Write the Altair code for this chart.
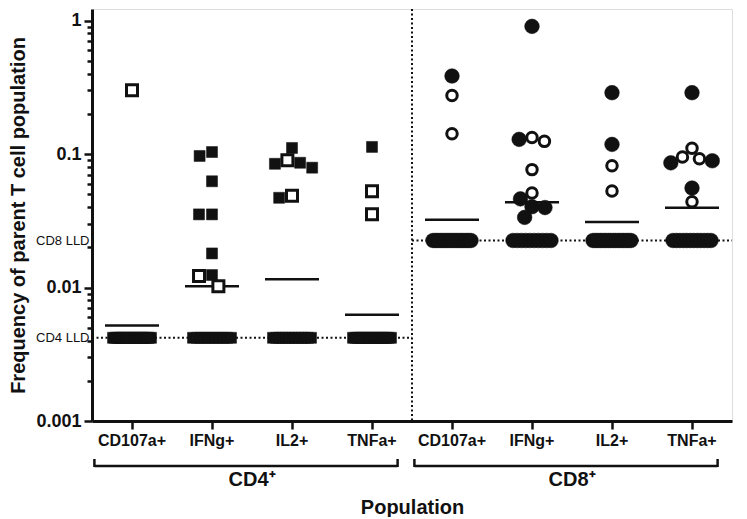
import math
import altair as alt
import pandas as pd

# ---------------- data ----------------
groups = ["CD4", "CD8"]
cytokines = ["CD107a+", "IFNg+", "IL2+", "TNFa+"]
lld_values = [0.0042, 0.0225]          # CD4 LLD, CD8 LLD
n_subjects = 20

cd4_cd107a_filled = []
cd4_cd107a_open = [0.30]
cd4_ifng_filled = [0.1035, 0.0967, 0.0625, 0.0353, 0.0353, 0.018, 0.0124]
cd4_ifng_open = [0.0122, 0.0102]
cd4_il2_filled = [0.111, 0.086, 0.079, 0.0845, 0.047]
cd4_il2_open = [0.090, 0.0486]
cd4_tnfa_filled = [0.113]
cd4_tnfa_open = [0.0527, 0.0354]

cd8_cd107a_filled = [0.384]
cd8_cd107a_open = [0.274, 0.142]
cd8_ifng_filled = [0.904, 0.1287, 0.0461, 0.0397, 0.0403, 0.0335]
cd8_ifng_open = [0.1244, 0.133, 0.0764, 0.0511]
cd8_il2_filled = [0.288, 0.118]
cd8_il2_open = [0.0817, 0.0528]
cd8_tnfa_filled = [0.288, 0.0859, 0.089, 0.0556]
cd8_tnfa_open = [0.1106, 0.092, 0.095, 0.0439]

major_ticks = [1, 0.1, 0.01, 0.001]
minor_ticks = [0.9, 0.8, 0.7, 0.6, 0.5, 0.4, 0.3, 0.2,
               0.09, 0.08, 0.07, 0.06, 0.05, 0.04, 0.03, 0.02,
               0.009, 0.008, 0.007, 0.006, 0.005, 0.004, 0.003, 0.002]

measured = {
    ("CD4", "CD107a+"): (cd4_cd107a_filled, cd4_cd107a_open),
    ("CD4", "IFNg+"): (cd4_ifng_filled, cd4_ifng_open),
    ("CD4", "IL2+"): (cd4_il2_filled, cd4_il2_open),
    ("CD4", "TNFa+"): (cd4_tnfa_filled, cd4_tnfa_open),
    ("CD8", "CD107a+"): (cd8_cd107a_filled, cd8_cd107a_open),
    ("CD8", "IFNg+"): (cd8_ifng_filled, cd8_ifng_open),
    ("CD8", "IL2+"): (cd8_il2_filled, cd8_il2_open),
    ("CD8", "TNFa+"): (cd8_tnfa_filled, cd8_tnfa_open),
}

# ---------------- layout ----------------
W, H = 640, 412
STEP = W / 8
Y_DOMAIN = [0.001, 1.22]
PPD = H / math.log10(Y_DOMAIN[1] / Y_DOMAIN[0])
FONT = "Liberation Sans"
INK = "#111111"


def swarm(values, d=13.0, lim=26.0):
    placed, offs = [], []
    for v in values:
        y = math.log10(v) * PPD
        cands = [0.0]
        for py, px in placed:
            dy = abs(y - py)
            if dy < d:
                dx = math.sqrt(d * d - dy * dy)
                cands += [px - dx, px + dx]

        def ok(c):
            return all((c - px) ** 2 + (y - py) ** 2 >= d * d - 1e-6 for py, px in placed)

        valid = [c for c in cands if ok(c) and abs(c) <= lim]
        best = min(valid, key=lambda c: (round(abs(c), 6), c)) if valid else min(cands, key=abs)
        placed.append((y, best))
        offs.append(best)
    return offs


rows = []
keys = []
for g, lld in zip(groups, lld_values):
    for c in cytokines:
        key = f"{g}|{c}"
        keys.append(key)
        filled, opened = measured[(g, c)]
        det = [(v, "filled") for v in filled] + [(v, "open") for v in opened]
        det.sort(key=lambda t: -t[0])
        offs = swarm([v for v, _ in det])
        for (v, k), o in zip(det, offs):
            rows.append(dict(pop=key, group=g, value=v, kind=k, off=o))
        n_lld = n_subjects - len(det)
        for i in range(n_lld):
            o = -19 + 38 * i / (n_lld - 1)
            rows.append(dict(pop=key, group=g, value=lld, kind="filled", off=o))
df = pd.DataFrame(rows)

lld_df = pd.DataFrame({
    "start": [f"{g}|{cytokines[0]}" for g in groups],
    "end": [f"{g}|{cytokines[-1]}" for g in groups],
    "mid": [f"{g}|{cytokines[1]}" for g in groups],
    "lld": lld_values,
    "label": [f"{g}\u207a" for g in groups],
})

xscale = alt.Scale(domain=keys, paddingInner=0, paddingOuter=0)
yscale = alt.Scale(type="log", domain=Y_DOMAIN, nice=False)

x_axis = alt.Axis(
    title="Population",
    labelExpr="split(datum.label, '|')[1]",
    labelAngle=0, labelFont=FONT, labelFontSize=16, labelFontWeight="bold",
    labelColor=INK, labelPadding=3, labelOverlap=False,
    tickSize=8, tickWidth=2.5, tickColor=INK,
    domainWidth=3, domainColor=INK,
    titleFont=FONT, titleFontSize=20, titleFontWeight="bold", titleColor=INK,
    titlePadding=49, grid=False,
)

lld_test = "datum.value == 0.0042 || datum.value == 0.0225"
major_test = "datum.value == 1 || datum.value == 0.1 || datum.value == 0.01 || datum.value == 0.001"
y_axis = alt.Axis(
    title="Frequency of parent T cell population",
    values=major_ticks + minor_ticks + lld_values,
    labelExpr=(f"({lld_test}) ? (datum.value == 0.0042 ? 'CD4 LLD' : 'CD8 LLD') : "
               f"(({major_test}) ? format(datum.value, '~g') : '')"),
    labelFont=FONT, labelColor=INK, labelOverlap=False, labelPadding=3,
    labelFontSize={"condition": {"test": lld_test, "value": 13}, "value": 18},
    labelFontWeight={"condition": {"test": lld_test, "value": "normal"}, "value": "bold"},
    tickSize={"condition": [{"test": major_test, "value": 8},
                            {"test": lld_test, "value": 0}], "value": 5},
    tickWidth=2.5, tickColor=INK,
    domainWidth=3, domainColor=INK,
    titleFont=FONT, titleFontSize=20, titleFontWeight="bold", titleColor=INK,
    titlePadding=7, grid=False,
)

base = alt.Chart(df)

# vertical dotted divider between CD4 and CD8
divider = alt.Chart(lld_df).transform_filter("datum.end == 'CD4|TNFa+'").mark_rule(
    color=INK, strokeWidth=2, strokeDash=[2, 2.5]
).encode(x=alt.X("end:N", scale=xscale, axis=x_axis, bandPosition=1))

# LLD dotted lines
lld_lines = alt.Chart(lld_df).mark_rule(
    color=INK, strokeWidth=2, strokeDash=[2, 2.5]
).encode(
    x=alt.X("start:N", scale=xscale, axis=x_axis, bandPosition=0),
    x2=alt.X2("end:N", bandPosition=1),
    y=alt.Y("lld:Q", scale=yscale, axis=y_axis),
)

# geometric mean lines
means = base.transform_calculate(
    lg="log(datum.value) / LN10"
).transform_aggregate(
    mlg="mean(lg)", groupby=["pop"]
).transform_calculate(
    gm="pow(10, datum.mlg)"
).mark_tick(color=INK, size=54, thickness=2.5, orient="horizontal", opacity=1).encode(
    x=alt.X("pop:N", scale=xscale, axis=x_axis),
    y=alt.Y("gm:Q", scale=yscale, axis=y_axis),
)


def points(group, kind, shape, size):
    if kind == "filled":
        mk = dict(filled=True, fill=INK, stroke=INK, strokeWidth=0.5)
    else:
        mk = dict(filled=True, fill="white", stroke=INK, strokeWidth=3)
    return base.transform_filter(
        f"datum.group == '{group}' && datum.kind == '{kind}'"
    ).mark_point(shape=shape, size=size, opacity=1, **mk).encode(
        x=alt.X("pop:N", scale=xscale, axis=x_axis),
        xOffset=alt.XOffset("off:Q", scale=alt.Scale(domain=[-STEP / 2, STEP / 2])),
        y=alt.Y("value:Q", scale=yscale, axis=y_axis),
    )


pts = [
    points("CD4", "filled", "square", 121),
    points("CD4", "open", "square", 121),
    points("CD8", "filled", "circle", 215),
    points("CD8", "open", "circle", 110),
]

# group brackets under the axis
BY = H + 45
bracket = alt.Chart(lld_df).mark_rule(color=INK, strokeWidth=2.5).encode(
    x=alt.X("start:N", scale=xscale, axis=x_axis, bandPosition=0.03),
    x2=alt.X2("end:N", bandPosition=0.82),
    y=alt.value(BY),
)
bracket_l = alt.Chart(lld_df).mark_rule(color=INK, strokeWidth=2.5).encode(
    x=alt.X("start:N", scale=xscale, axis=x_axis, bandPosition=0.03),
    y=alt.value(BY - 7), y2=alt.value(BY + 1),
)
bracket_r = alt.Chart(lld_df).mark_rule(color=INK, strokeWidth=2.5).encode(
    x=alt.X("end:N", scale=xscale, axis=x_axis, bandPosition=0.82),
    y=alt.value(BY - 7), y2=alt.value(BY + 1),
)
group_text = alt.Chart(lld_df).mark_text(
    font=FONT, fontSize=20, fontWeight="bold", color=INK, baseline="middle"
).encode(
    x=alt.X("mid:N", scale=xscale, axis=x_axis, bandPosition=1),
    y=alt.value(H + 59),
    text="label:N",
)

chart = alt.layer(
    lld_lines, divider, means, *pts, bracket, bracket_l, bracket_r, group_text
).properties(
    width=W, height=H, padding=0
).configure_view(
    stroke=INK, strokeWidth=2
).configure(font=FONT)

chart.save("out.html", embed_options={"renderer": "svg", "actions": False})
